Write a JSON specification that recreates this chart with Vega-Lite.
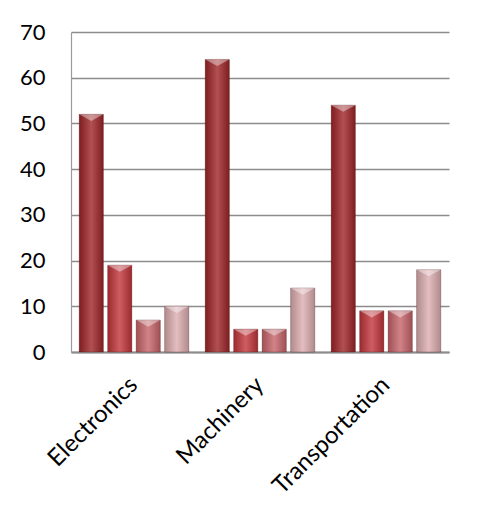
{
  "$schema": "https://vega.github.io/schema/vega-lite/v6.json",
  "width": 378,
  "height": 320,
  "autosize": {"type": "none"},
  "padding": {"left": 71, "top": 32, "right": 32, "bottom": 174},
  "background": "white",
  "config": {
    "font": "Lato",
    "view": {"stroke": null}
  },
  "data": {
    "values": [
      {"sector": "Electronics", "series": "Series 1", "value": 52},
      {"sector": "Electronics", "series": "Series 2", "value": 19},
      {"sector": "Electronics", "series": "Series 3", "value": 7},
      {"sector": "Electronics", "series": "Series 4", "value": 10},
      {"sector": "Machinery", "series": "Series 1", "value": 64},
      {"sector": "Machinery", "series": "Series 2", "value": 5},
      {"sector": "Machinery", "series": "Series 3", "value": 5},
      {"sector": "Machinery", "series": "Series 4", "value": 14},
      {"sector": "Transportation", "series": "Series 1", "value": 54},
      {"sector": "Transportation", "series": "Series 2", "value": 9},
      {"sector": "Transportation", "series": "Series 3", "value": 9},
      {"sector": "Transportation", "series": "Series 4", "value": 18}
    ]
  },
  "encoding": {
    "x": {
      "field": "sector",
      "type": "nominal",
      "sort": ["Electronics", "Machinery", "Transportation"],
      "scale": {"paddingInner": 0.13, "paddingOuter": 0.065},
      "axis": {
        "title": null,
        "labelAngle": -45,
        "labelAlign": "right",
        "labelBaseline": "middle",
        "labelFontSize": 24,
        "labelColor": "#000000",
        "labelPadding": 29,
        "ticks": false,
        "grid": false,
        "domainColor": "#8c8c8c",
        "domainWidth": 2
      }
    },
    "xOffset": {
      "field": "series",
      "type": "nominal",
      "scale": {"paddingInner": 0.15}
    },
    "y": {
      "field": "value",
      "type": "quantitative",
      "scale": {"domain": [0, 70], "nice": false},
      "axis": {
        "title": null,
        "values": [0, 10, 20, 30, 40, 50, 60, 70],
        "labelFontSize": 22,
        "labelColor": "#000000",
        "labelPadding": 26,
        "ticks": false,
        "gridColor": "#8c8c8c",
        "gridWidth": 1.4,
        "domainColor": "#9a9a9a",
        "domainWidth": 1.2
      }
    }
  },
  "layer": [
    {
      "mark": {"type": "bar"},
      "encoding": {
        "color": {
          "field": "series",
          "type": "nominal",
          "scale": {
            "domain": ["Series 1", "Series 2", "Series 3", "Series 4"],
            "range": ["#9e2428", "#c2353a", "#c6646a", "#dcadb0"]
          },
          "legend": null
        }
      }
    },
    {
      "mark": {
        "type": "bar",
        "fill": {
          "gradient": "linear",
          "x1": 0, "y1": 0, "x2": 1, "y2": 0,
          "stops": [
            {"offset": 0, "color": "#000000"},
            {"offset": 0.5, "color": "#ffffff"},
            {"offset": 1, "color": "#000000"}
          ]
        },
        "fillOpacity": 0.2,
        "stroke": "#4a0e10",
        "strokeOpacity": 0.35,
        "strokeWidth": 0.8
      }
    },
    {
      "mark": {
        "type": "point",
        "shape": "M-1,0L1,0L0,0.55Z",
        "size": 585,
        "filled": true,
        "fill": "#ffffff",
        "opacity": 0.4
      }
    }
  ]
}
